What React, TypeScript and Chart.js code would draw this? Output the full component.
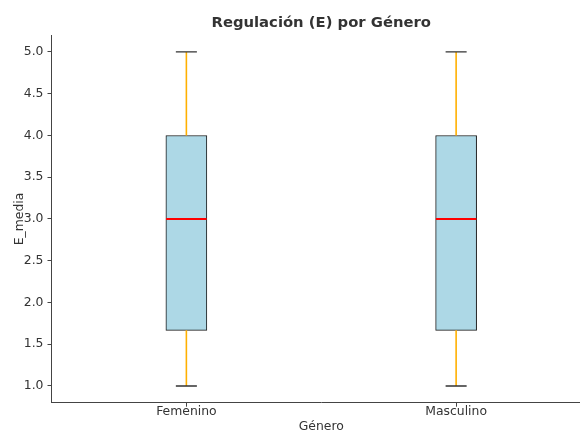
import React, { useEffect, useRef } from "react";
import { Chart, registerables } from "chart.js";

Chart.register(...registerables);

const categories = ["Femenino", "Masculino"];
const positions = [1, 2];
const whiskerLow = [1.0, 1.0];
const q1 = [1.6667, 1.6667];
const median = [3.0, 3.0];
const q3 = [4.0, 4.0];
const whiskerHigh = [5.0, 5.0];
const yTicks = [1.0, 1.5, 2.0, 2.5, 3.0, 3.5, 4.0, 4.5, 5.0];

const BOX_HALF = 0.075;
const CAP_HALF = 0.039;
const FONT = "'DejaVu Sans', sans-serif";
const TEXT = "#333333";
const AXIS = "#444444";

export default function App() {
  const ref = useRef<HTMLCanvasElement | null>(null);

  useEffect(() => {
    if (!ref.current) return;
    const whiskerPts: any[] = [];
    const capPts: any[] = [];
    const medPts: any[] = [];
    positions.forEach((p, i) => {
      whiskerPts.push({ x: p, y: whiskerLow[i] }, { x: p, y: q1[i] }, { x: p, y: null });
      whiskerPts.push({ x: p, y: q3[i] }, { x: p, y: whiskerHigh[i] }, { x: p, y: null });
      capPts.push({ x: p - CAP_HALF, y: whiskerLow[i] }, { x: p + CAP_HALF, y: whiskerLow[i] }, { x: p, y: null });
      capPts.push({ x: p - CAP_HALF, y: whiskerHigh[i] }, { x: p + CAP_HALF, y: whiskerHigh[i] }, { x: p, y: null });
      medPts.push({ x: p - BOX_HALF, y: median[i] }, { x: p + BOX_HALF, y: median[i] }, { x: p, y: null });
    });

    const chart = new Chart(ref.current, {
      type: "bar",
      data: {
        datasets: [
          {
            type: "line",
            data: medPts,
            borderColor: "#ff0000",
            borderWidth: 2,
            pointRadius: 0,
            spanGaps: false,
            order: 1,
          } as any,
          {
            type: "line",
            data: capPts,
            borderColor: "#333333",
            borderWidth: 1.3,
            pointRadius: 0,
            spanGaps: false,
            order: 2,
          } as any,
          {
            type: "line",
            data: whiskerPts,
            borderColor: "#ffb000",
            borderWidth: 1.6,
            pointRadius: 0,
            spanGaps: false,
            order: 3,
          } as any,
          {
            type: "bar",
            data: positions.map((p, i) => ({ x: p, y: [q1[i], q3[i]] })),
            backgroundColor: "#add8e6",
            borderColor: "#1a1a1a",
            borderWidth: 1,
            borderSkipped: false,
            barThickness: 41,
            order: 4,
          } as any,
        ],
      },
      options: {
        animation: false,
        responsive: false,
        events: [],
        layout: { padding: 0 },
        plugins: {
          legend: { display: false },
          tooltip: { enabled: false },
          title: {
            display: true,
            text: "Regulación (E) por Género",
            fullSize: false,
            color: TEXT,
            font: { family: FONT, size: 14.8, weight: "bold", lineHeight: 1.2 },
            padding: { top: 14.1, bottom: 3.4 },
          },
        },
        scales: {
          x: {
            type: "linear",
            min: 0.5,
            max: 2.5,
            offset: false,
            afterBuildTicks: (s: any) => {
              s.ticks = positions.map((v) => ({ value: v }));
            },
            afterFit: (s: any) => {
              s.height = 29.3;
            },
            ticks: {
              color: TEXT,
              padding: -1,
              font: { family: FONT, size: 12.4, lineHeight: 1 },
              callback: (v: any) => {
                const i = positions.indexOf(Number(v));
                return i >= 0 ? categories[i] : "";
              },
            },
            grid: {
              offset: false,
              drawOnChartArea: false,
              drawTicks: true,
              tickLength: 4,
              color: AXIS,
              tickColor: AXIS,
            },
            border: { display: true, color: AXIS, width: 1 },
            title: {
              display: true,
              text: "Género",
              color: TEXT,
              font: { family: FONT, size: 12.4, lineHeight: 0.9 },
              padding: 0,
            },
          },
          y: {
            type: "linear",
            min: 0.8,
            max: 5.2,
            afterBuildTicks: (s: any) => {
              s.ticks = yTicks.map((v) => ({ value: v }));
            },
            afterFit: (s: any) => {
              s.width = 51.5;
            },
            ticks: {
              color: TEXT,
              padding: 4,
              font: { family: FONT, size: 12.4 },
              callback: (v: any) => Number(v).toFixed(1),
            },
            grid: {
              drawOnChartArea: false,
              drawTicks: true,
              tickLength: 4,
              color: AXIS,
              tickColor: AXIS,
            },
            border: { display: true, color: AXIS, width: 1 },
            title: {
              display: true,
              text: "E_media",
              color: TEXT,
              font: { family: FONT, size: 12.4, lineHeight: 1.2 },
              padding: { top: 12.5, bottom: 0 },
            },
          },
        },
      } as any,
    });
    return () => chart.destroy();
  }, []);

  return (
    <div
      style={{
        position: "fixed",
        left: 0,
        top: 0,
        width: 580,
        height: 432,
        overflow: "hidden",
        background: "#ffffff",
      }}
    >
      <canvas
        ref={ref}
        width={591}
        height={432}
        style={{ display: "block", width: 591, height: 432 }}
      />
    </div>
  );
}
